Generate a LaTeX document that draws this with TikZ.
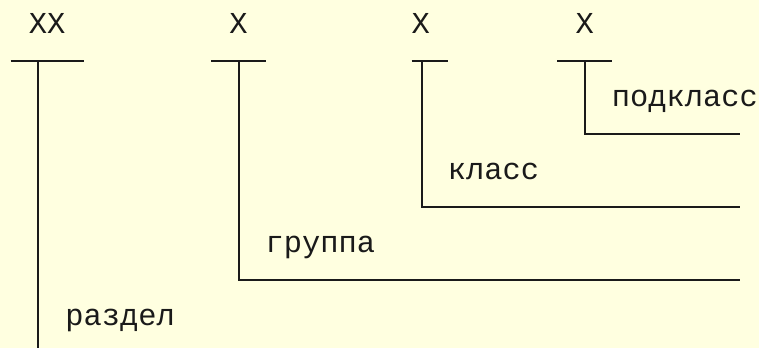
\documentclass[tikz,border=0pt]{standalone}
\usepackage{fontspec}
\setmonofont{Liberation Mono}
\definecolor{bgyellow}{HTML}{FFFFE0}
\definecolor{ink}{HTML}{1A1A1A}
\begin{document}
\begin{tikzpicture}[x=1pt,y=-1pt,
  lbl/.style={anchor=base west,inner sep=0pt,outer sep=0pt,text=ink,font=\ttfamily\fontsize{30.4}{36}\selectfont},
  bar/.style={draw=ink,line width=2pt,line cap=butt},
  tree/.style={draw=ink,line width=2pt,line cap=butt,line join=miter}]
\fill[bgyellow] (0,0) rectangle (759,348);
\useasboundingbox (0,0) rectangle (759,348);
% labels (cell width 18.22, origin 10.6)
\node[lbl] (xx) at (28.8,33) {XX};
\node[lbl] (x1) at (229.3,33) {X};
\node[lbl] (x2) at (411.5,33) {X};
\node[lbl] (x3) at (575.5,33) {X};
\node[lbl] (podklass) at (611.9,106) {подкласс};
\node[lbl] (klass) at (447.9,179) {класс};
\node[lbl] (gruppa) at (265.7,252.5) {группа};
\node[lbl] (razdel) at (65.3,325.5) {раздел};
% T-bars
\coordinate (b0a) at (10.6,61); \coordinate (b0b) at (83.5,61);
\coordinate (b1a) at (211.0,61); \coordinate (b1b) at (265.7,61);
\coordinate (b2a) at (411.5,61); \coordinate (b2b) at (448.0,61);
\coordinate (b3a) at (557.2,61); \coordinate (b3b) at (611.9,61);
\draw[bar] (b0a) -- (b0b);
\draw[bar] (b1a) -- (b1b);
\draw[bar] (b2a) -- (b2b);
\draw[bar] (b3a) -- (b3b);
% stems and corners
\coordinate (t0) at (37.5,61);  \coordinate (e0) at (37.5,348);
\coordinate (t1) at (238.5,61); \coordinate (c1) at (238.5,280); \coordinate (e1) at (740,280);
\coordinate (t2) at (421.5,61); \coordinate (c2) at (421.5,207); \coordinate (e2) at (740,207);
\coordinate (t3) at (585.3,61); \coordinate (c3) at (585.3,133.5); \coordinate (e3) at (740,133.5);
\draw[tree] (t0) -- (e0);
\draw[tree] (t1) -- (c1) -- (e1);
\draw[tree] (t2) -- (c2) -- (e2);
\draw[tree] (t3) -- (c3) -- (e3);
\end{tikzpicture}
\end{document}
